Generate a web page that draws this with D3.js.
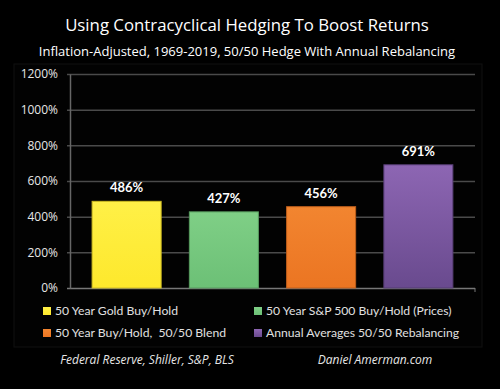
<!DOCTYPE html>
<html>
<head>
<meta charset="utf-8">
<script src="https://cdn.jsdelivr.net/npm/d3@7"></script>
<style>
  html, body { margin: 0; padding: 0; background: #000; }
  svg { display: block; }
</style>
</head>
<body>
<div id="chart"></div>
<script>
// chart data
var categories = ["50 Year Gold Buy/Hold", "50 Year S&P 500 Buy/Hold (Prices)",
                  "50 Year Buy/Hold,  50/50 Blend", "Annual Averages 50/50 Rebalancing"];
var values = [486, 427, 456, 691];
var yTicks = [0, 200, 400, 600, 800, 1000, 1200];
var colorsTop = ["#fff047", "#7fcf86", "#f28530", "#8d66b3"];
var colorsBottom = ["#fde82c", "#6cc076", "#eb7522", "#694a8e"];

var width = 500, height = 389;

var svg = d3.select("#chart").append("svg")
    .attr("width", width)
    .attr("height", height)
    .style("background", "#000")
    .style("font-family", "'Open Sans', sans-serif");

var x = d3.scaleBand()
    .domain(categories)
    .range([78, 467])
    .paddingInner(0.29)
    .paddingOuter(0.145);

var y = d3.scaleLinear()
    .domain([0, 1200])
    .range([288, 74]);

// faint chart panel
svg.append("rect")
    .attr("x", 14).attr("y", 64)
    .attr("width", 468).attr("height", 283)
    .attr("fill", "#020202")
    .attr("stroke", "#111")
    .attr("stroke-width", 1);

// titles
svg.append("text")
    .attr("x", 247).attr("y", 31)
    .attr("text-anchor", "middle")
    .attr("fill", "#fff")
    .style("font-size", "16.8px")
    .text("Using Contracyclical Hedging To Boost Returns");

svg.append("text")
    .attr("x", 247).attr("y", 56)
    .attr("text-anchor", "middle")
    .attr("fill", "#fff")
    .style("font-size", "13px")
    .text("Inflation-Adjusted, 1969-2019, 50/50 Hedge With Annual Rebalancing");

// gridlines
svg.append("g")
    .selectAll("line")
    .data(yTicks)
    .enter()
    .append("line")
    .attr("x1", 67).attr("x2", 475)
    .attr("y1", function (d) { return y(d) + 0.5; })
    .attr("y2", function (d) { return y(d) + 0.5; })
    .attr("stroke", function (d) { return d == 0 ? "#777" : "#4a4a4a"; })
    .attr("stroke-width", 1.5);

// y axis
var yAxis = d3.axisLeft(y)
    .tickValues(yTicks)
    .tickSize(0)
    .tickPadding(12)
    .tickFormat(function (d) { return d + "%"; });

var gy = svg.append("g")
    .attr("transform", "translate(70,0)")
    .call(yAxis);
gy.select(".domain").attr("stroke", "#666").attr("stroke-width", 1.5);
gy.selectAll("text")
    .attr("fill", "#e6e6e6")
    .style("font-size", "12px")
    .style("font-family", "'Open Sans', sans-serif");

svg.append("line")
    .attr("x1", 475).attr("x2", 475)
    .attr("y1", y(0)).attr("y2", y(0) + 4)
    .attr("stroke", "#777");

// gradients for bars
var defs = svg.append("defs");
categories.forEach(function (c, i) {
    var g = defs.append("linearGradient")
        .attr("id", "grad" + i)
        .attr("x1", 0).attr("y1", 0).attr("x2", 0).attr("y2", 1);
    g.append("stop").attr("offset", "0%").attr("stop-color", colorsTop[i]);
    g.append("stop").attr("offset", "100%").attr("stop-color", colorsBottom[i]);
});

// bars
svg.append("g")
    .selectAll("rect")
    .data(values)
    .enter()
    .append("rect")
    .attr("x", function (d, i) { return x(categories[i]); })
    .attr("y", function (d) { return y(d); })
    .attr("width", x.bandwidth())
    .attr("height", function (d) { return y(0) - y(d); })
    .attr("fill", function (d, i) { return "url(#grad" + i + ")"; })
    .attr("stroke", function (d, i) { return d3.color(colorsBottom[i]).darker(0.6); })
    .attr("stroke-width", 1);

// value labels
svg.append("g")
    .selectAll("text")
    .data(values)
    .enter()
    .append("text")
    .attr("x", function (d, i) { return x(categories[i]) + x.bandwidth() / 2; })
    .attr("y", function (d) { return y(d) - 9; })
    .attr("text-anchor", "middle")
    .attr("fill", "#fff")
    .style("font-family", "Lato, sans-serif")
    .style("font-size", "13px")
    .style("font-weight", "bold")
    .text(function (d) { return d + "%"; });

// legend
var legendPos = [[43, 311], [254, 311], [43, 333], [254, 333]];
var legend = svg.append("g")
    .selectAll("g")
    .data(categories)
    .enter()
    .append("g")
    .attr("transform", function (d, i) {
        return "translate(" + legendPos[i][0] + "," + legendPos[i][1] + ")";
    });

legend.append("rect")
    .attr("x", 0).attr("y", -4)
    .attr("width", 8).attr("height", 8)
    .attr("fill", function (d, i) { return "url(#grad" + i + ")"; });

legend.append("text")
    .attr("x", 12).attr("y", 0)
    .attr("dy", "0.35em")
    .attr("fill", "#e0e0e0")
    .style("font-family", "Lato, sans-serif")
    .style("font-size", "12.2px")
    .style("white-space", "pre")
    .text(function (d) { return d; });

// sources
svg.append("text")
    .attr("x", 147).attr("y", 364)
    .attr("text-anchor", "middle")
    .attr("fill", "#e6e6e6")
    .style("font-size", "12px")
    .style("font-style", "italic")
    .text("Federal Reserve, Shiller, S&P, BLS");

svg.append("text")
    .attr("x", 375).attr("y", 364)
    .attr("text-anchor", "middle")
    .attr("fill", "#e6e6e6")
    .style("font-size", "12px")
    .style("font-style", "italic")
    .text("Daniel Amerman.com");
</script>
</body>
</html>
